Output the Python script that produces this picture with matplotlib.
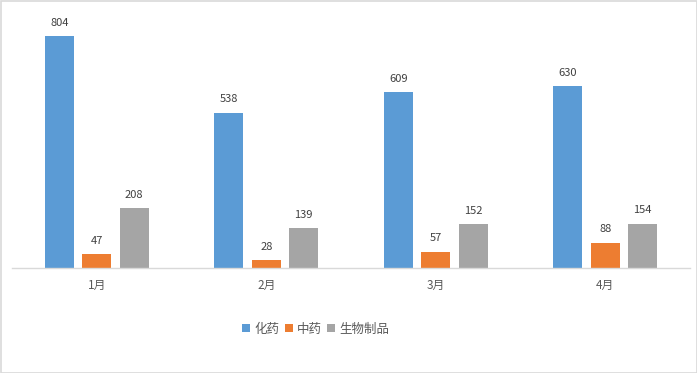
import matplotlib
matplotlib.use("Agg")
import matplotlib.pyplot as plt
import numpy as np

plt.rcParams['font.family'] = ['Noto Sans CJK SC', 'DejaVu Sans']

categories = ['1月', '2月', '3月', '4月']
series_names = ['化药', '中药', '生物制品']
chem = [804, 538, 609, 630]
tcm = [47, 28, 57, 88]
bio = [208, 139, 152, 154]
colors = ['#5B9BD5', '#ED7D31', '#A5A5A5']

fig = plt.figure(figsize=(6.97, 3.73), dpi=100)
ax = fig.add_axes([12/697, 1-268/373, 678/697, 260/373])

x = np.arange(len(categories))
w = 0.172
off = 0.221
for i, (vals, name, c) in enumerate(zip([chem, tcm, bio], series_names, colors)):
    pos = x + (i - 1) * off
    bars = ax.bar(pos, vals, width=w, color=c, label=name, zorder=2)
    for b, v in zip(bars, vals):
        ax.text(b.get_x() + b.get_width()/2, v + 28, str(v), ha='center', va='bottom',
                fontsize=8, color='#404040')

ax.set_xlim(-0.5, 3.5)
ax.set_ylim(0, 900)
ax.set_yticks([])
ax.set_xticks(x)
ax.set_xticklabels(categories, fontsize=8.5, color='#595959')
ax.tick_params(axis='x', length=0, pad=8)
for s in ['top', 'right', 'left']:
    ax.spines[s].set_visible(False)
ax.spines['bottom'].set_color('#D9D9D9')
ax.spines['bottom'].set_linewidth(1)

leg = fig.legend(loc='center', bbox_to_anchor=(316/697, 1-329/373), ncol=3, frameon=False,
                 fontsize=9, handlelength=0.65, handleheight=0.65, handletextpad=0.35,
                 columnspacing=0.4, labelcolor='#595959')

border = plt.Rectangle((0.5/697, 0.5/373), 1-1/697, 1-1/373, transform=fig.transFigure,
                       fill=False, edgecolor='#D9D9D9', linewidth=1.2)
fig.patches.append(border)

fig.savefig('out.png', dpi=100)
